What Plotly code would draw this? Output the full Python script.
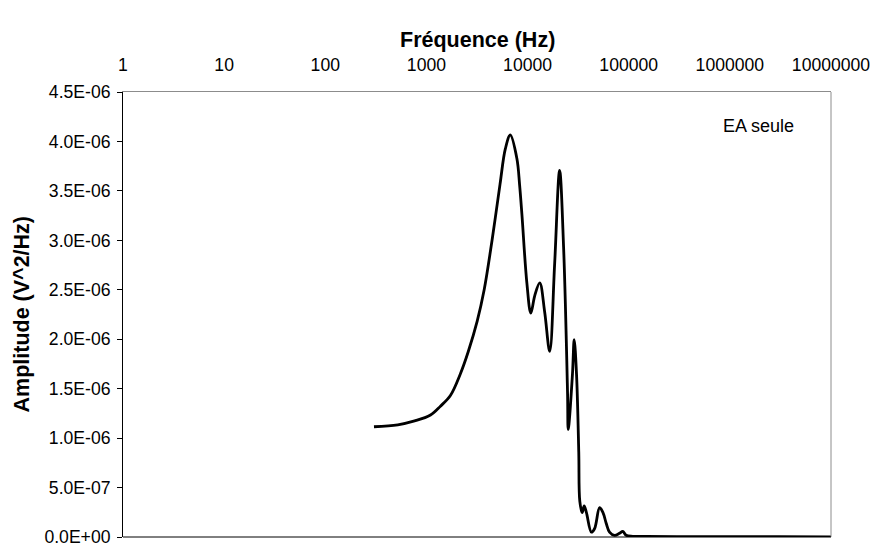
import plotly.graph_objects as go

# Spectral density of the acoustic emission signal ("EA seule")
freq_hz = [303, 521, 764, 1097, 1376, 1726, 2163, 2594, 3177, 3723, 4460, 5343,
           6025, 6743, 7847, 8340, 8791, 9840, 10770, 11780, 13190, 14770, 16550,
           18530, 20740, 22700, 24850, 25240, 27800, 28900, 30470, 32080, 32830,
           34650, 36250, 38200, 42760, 46040, 51540, 55670, 59980, 64600, 72400,
           81100, 87500, 94400, 109700, 150000, 300000, 1000000, 3000000, 10000000]
amplitude = [1.115, 1.135, 1.174, 1.234, 1.323, 1.431, 1.649, 1.876, 2.183, 2.500,
             3.004, 3.568, 3.924, 4.065, 3.825, 3.561, 3.262, 2.570, 2.263, 2.441,
             2.570, 2.273, 1.877, 2.767, 3.706, 2.934, 1.450, 1.088, 1.649, 1.995,
             1.649, 0.858, 0.363, 0.247, 0.314, 0.247, 0.049, 0.086, 0.297, 0.247,
             0.136, 0.049, 0.017, 0.037, 0.056, 0.017, 0.007, 0.005, 0.004, 0.003,
             0.003, 0.002]
amplitude = [v * 1e-6 for v in amplitude]

x_tick_vals = [1, 10, 100, 1000, 10000, 100000, 1000000, 10000000]
x_tick_text = ["1", "10", "100", "1000", "10000", "100000", "1000000", "10000000"]
y_tick_vals = [0, 0.5e-6, 1.0e-6, 1.5e-6, 2.0e-6, 2.5e-6, 3.0e-6, 3.5e-6, 4.0e-6, 4.5e-6]
y_tick_text = ["0.0E+00", "5.0E-07", "1.0E-06", "1.5E-06", "2.0E-06", "2.5E-06",
               "3.0E-06", "3.5E-06", "4.0E-06", "4.5E-06"]

FONT = "Liberation Sans, Arial, sans-serif"
TICK_SIZE = 17.6
TITLE_SIZE = 21.5

fig = go.Figure()
fig.add_trace(go.Scatter(
    x=freq_hz, y=amplitude, mode="lines",
    line=dict(color="black", width=2.8, shape="spline", smoothing=1.0),
    showlegend=False, hoverinfo="skip",
))

fig.update_layout(
    width=881, height=558,
    margin=dict(l=123, r=45, t=92, b=11),
    paper_bgcolor="white", plot_bgcolor="white",
    font=dict(family=FONT, size=TICK_SIZE, color="black"),
    xaxis=dict(
        type="log", range=[0, 7], side="top",
        tickmode="array", tickvals=x_tick_vals, ticktext=x_tick_text,
        ticks="", ticklabelstandoff=13,
        showgrid=False, zeroline=False, showline=True,
        linecolor="#8c8c8c", linewidth=1,
        tickfont=dict(family=FONT, size=TICK_SIZE, color="black"),
    ),
    yaxis=dict(
        range=[0, 4.5e-6],
        tickmode="array", tickvals=y_tick_vals, ticktext=y_tick_text,
        ticks="outside", ticklen=5, tickcolor="black", tickwidth=1,
        ticklabelstandoff=3,
        showgrid=False, zeroline=False, showline=True,
        linecolor="black", linewidth=1,
        tickfont=dict(family=FONT, size=TICK_SIZE, color="black"),
    ),
    shapes=[
        # right border of the plot frame
        dict(type="line", xref="paper", yref="paper", x0=1, x1=1, y0=0, y1=1,
             line=dict(color="#8c8c8c", width=1)),
        # bottom baseline
        dict(type="line", xref="paper", yref="paper", x0=0, x1=1, y0=0, y1=0,
             line=dict(color="black", width=1)),
    ],
    annotations=[
        dict(text="<b>Fréquence (Hz)</b>", xref="paper", yref="paper",
             x=0.5, y=1, yshift=52, showarrow=False,
             xanchor="center", yanchor="middle",
             font=dict(family=FONT, size=TITLE_SIZE, color="black")),
        dict(text="<b>Amplitude (V^2/Hz)</b>", xref="paper", yref="paper",
             x=0, xshift=-102, y=0.5, showarrow=False, textangle=-90,
             xanchor="center", yanchor="middle",
             font=dict(family=FONT, size=TITLE_SIZE, color="black")),
        dict(text="EA seule", xref="paper", yref="paper",
             x=0.951, y=0.923, showarrow=False,
             xanchor="right", yanchor="middle",
             font=dict(family=FONT, size=18, color="black")),
    ],
)

fig.write_html("out.html")
